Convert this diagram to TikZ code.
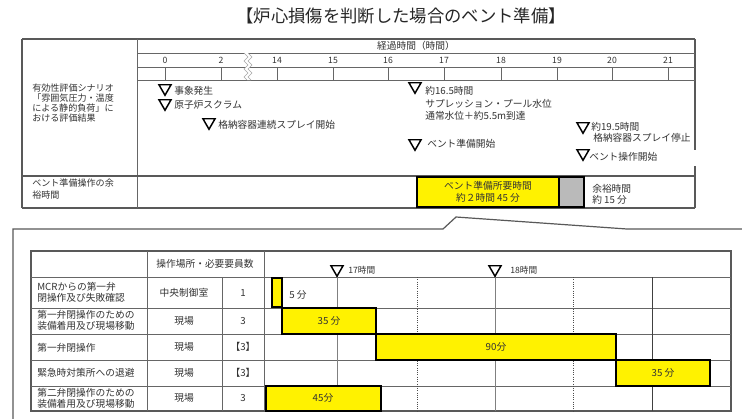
\documentclass[tikz,border=0pt]{standalone}
\usepackage{fontspec}
\setmainfont{Noto Sans CJK JP}
\usetikzlibrary{shapes.geometric}
\begin{document}
\begin{tikzpicture}[x=0.75pt,y=-0.75pt,
  grid/.style={draw=black!60, line width=0.6pt},
  frame/.style={draw=black!65, line width=0.9pt},
  txt/.style={inner sep=0pt, text=black!80, font=\fontsize{7.3pt}{9pt}\selectfont},
  lc/.style={inner sep=0pt, text=black!80, font=\fontsize{6.8pt}{8pt}\selectfont, anchor=west},
  sm/.style={inner sep=0pt, text=black!80, font=\fontsize{6.5pt}{8pt}\selectfont},
  mk/.style={draw=black, line width=1.1pt, regular polygon, regular polygon sides=3,
     shape border rotate=180, minimum size=10.5pt, inner sep=0pt, anchor=north},
  bar/.style={draw=black, fill=yellow, line width=0.9pt},
  greybox/.style={draw=black, fill=black!27, line width=0.9pt}]
\useasboundingbox (0,0) rectangle (742,418);
\fill[white] (0,0) rectangle (742,418);

% title
\node[inner sep=0pt, text=black!85, font=\fontsize{13pt}{15pt}\selectfont] (title) at (401,16) {【炉心損傷を判断した場合のベント準備】};

% ---------- top table ----------
\draw[frame] (22,39) -- (695,39);
\draw[frame] (22,39) -- (22,208);
\draw[frame] (22,208) -- (695,208);
\draw[frame] (695,39) -- (695,150);
\draw[frame] (695,166) -- (695,208);
\draw[grid] (137,39) -- (137,208);
\draw[grid] (137,53) -- (695,53);
\draw[grid] (137,67) -- (695,67);
\draw[grid] (137,80) -- (695,80);
\draw[frame] (22,176) -- (695,176);

\node[txt] (elapsed) at (416,46) {経過時間（時間）};
\foreach \v/\x in {0/165,2/221,14/277,15/333,16/388,17/444,18/501,19/557,20/612,21/668}{
  \node[sm] (n\v) at (\x,60) {\v};
  \draw[grid] (\x,67) -- (\x,80);
}
% zigzag break
\fill[white] (244,53) -- (248,57) -- (244,61) -- (248,65) -- (244,69) -- (248,73) -- (244,77) -- (247,80)
  -- (251,80) -- (248,77) -- (252,73) -- (248,69) -- (252,65) -- (248,61) -- (252,57) -- (248,53) -- cycle;
\draw[black!35, line width=0.5pt] (244,53) -- (248,57) -- (244,61) -- (248,65) -- (244,69) -- (248,73) -- (244,77) -- (247,80);
\draw[black!35, line width=0.5pt] (248,53) -- (252,57) -- (248,61) -- (252,65) -- (248,69) -- (252,73) -- (248,77) -- (251,80);

% left column text
\node[lc] (sc1) at (32,88) {有効性評価シナリオ};
\node[lc] (sc2) at (32,98) {「雰囲気圧力・温度};
\node[lc] (sc3) at (32,108) {による静的負荷」に};
\node[lc] (sc4) at (32,118) {おける評価結果};
\node[lc] (mg1) at (32,183) {ベント準備操作の余};
\node[lc] (mg2) at (32,195) {裕時間};

% markers
\node[mk] (m1) at (165,84) {};
\node[txt, anchor=west] (e1) at (174,91) {事象発生};
\node[mk] (m2) at (165,99) {};
\node[txt, anchor=west] (e2) at (174,105) {原子炉スクラム};
\node[mk] (m3) at (209,118) {};
\node[txt, anchor=west] (e3) at (218,125) {格納容器連続スプレイ開始};
\node[mk] (m4) at (415,82) {};
\node[txt, anchor=west] (e4a) at (425,91) {約16.5時間};
\node[txt, anchor=west] (e4b) at (425,104) {サプレッション・プール水位};
\node[txt, anchor=west] (e4c) at (425,116) {通常水位＋約5.5m到達};
\node[mk] (m5) at (415,139) {};
\node[txt, anchor=west] (e5) at (427,144) {ベント準備開始};
\node[mk] (m6) at (583,122) {};
\node[txt, anchor=west] (e6a) at (591,127) {約19.5時間};
\node[txt, anchor=west] (e6b) at (593,138) {格納容器スプレイ停止};
\node[mk] (m7) at (583,149) {};
\node[txt, anchor=west] (e7) at (589,157) {ベント操作開始};

% margin bars
\draw[bar] (417,177) rectangle (559,207);
\node[txt] (req1) at (488,186) {ベント準備所要時間};
\node[txt] (req2) at (488,198) {約２時間 45 分};
\draw[greybox] (559,177) rectangle (584,207);
\node[txt, anchor=west] (sp1) at (592,189) {余裕時間};
\node[txt, anchor=west] (sp2) at (592,200) {約 15 分};

% ---------- callout ----------
\coordinate (cA) at (13,420);
\coordinate (cB) at (13,229);
\coordinate (cC) at (443,229);
\coordinate (cD) at (456,217);
\coordinate (cE) at (627,229);
\coordinate (cF) at (745,229);
\draw[frame] (cA) -- (cB) -- (cC) -- (cD) -- (cE) -- (cF);

% ---------- lower table ----------
\draw[frame] (31,251) rectangle (731,411);
\foreach \y in {277,308,334,360,386}{ \draw[grid] (31,\y) -- (731,\y); }
\draw[grid] (147,251) -- (147,411);
\draw[grid] (222,277) -- (222,411);
\draw[grid] (264,251) -- (264,411);
\draw[black!50, line width=0.7pt] (337,276) -- (337,411);
\draw[black!50, line width=0.7pt] (495,276) -- (495,411);
\draw[black!70, line width=0.7pt, densely dotted] (417,277) -- (417,411);
\draw[black!70, line width=0.7pt, densely dotted] (573,277) -- (573,411);
\draw[black!75, line width=0.7pt] (652,277) -- (652,411);

\node[txt] (hloc) at (205,264) {操作場所・必要要員数};
\node[mk] (h17) at (337,265) {};
\node[sm, anchor=west] (h17t) at (348,270) {17時間};
\node[mk] (h18) at (495,265) {};
\node[sm, anchor=west] (h18t) at (510,270) {18時間};

% rows
\node[txt, anchor=west] (r1a) at (37,287) {MCRからの第一弁};
\node[txt, anchor=west] (r1b) at (37,298) {閉操作及び失敗確認};
\node[txt] (r1l) at (184,293) {中央制御室};
\node[txt] (r1n) at (243,293) {1};
\node[txt, anchor=west] (r2a) at (37,315) {第一弁閉操作のための};
\node[txt, anchor=west] (r2b) at (37,326) {装備着用及び現場移動};
\node[txt] (r2l) at (184,321) {現場};
\node[txt] (r2n) at (243,321) {3};
\node[txt, anchor=west] (r3a) at (37,348) {第一弁閉操作};
\node[txt] (r3l) at (184,347) {現場};
\node[txt] (r3n) at (243,347) {【3】};
\node[txt, anchor=west] (r4a) at (37,373) {緊急時対策所への退避};
\node[txt] (r4l) at (184,373) {現場};
\node[txt] (r4n) at (243,373) {【3】};
\node[txt, anchor=west] (r5a) at (37,393) {第二弁閉操作のための};
\node[txt, anchor=west] (r5b) at (37,404) {装備着用及び現場移動};
\node[txt] (r5l) at (184,398) {現場};
\node[txt] (r5n) at (243,398) {3};

% gantt bars
\draw[bar] (272,278) rectangle (282,307);
\node[txt, anchor=west] (b1) at (289,295) {5 分};
\draw[bar] (282,308) rectangle (376,334);
\node[txt] (b2) at (329,321) {35 分};
\draw[bar] (376,334) rectangle (616,360);
\node[txt] (b3) at (496,347) {90分};
\draw[bar] (616,360) rectangle (710,386);
\node[txt] (b4) at (663,373) {35 分};
\draw[bar] (266,386) rectangle (381,411);
\node[txt] (b5) at (323,398) {45分};
\end{tikzpicture}
\end{document}
